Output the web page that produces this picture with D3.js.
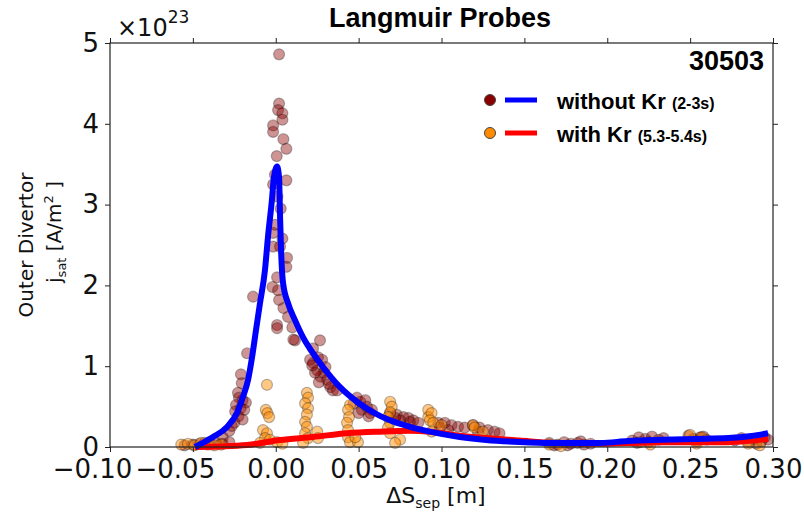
<!DOCTYPE html>
<html>
<head>
<meta charset="utf-8">
<script src="https://cdn.jsdelivr.net/npm/d3@7"></script>
<style>
body { margin: 0; background: #fff; }
text { font-family: "DejaVu Sans", sans-serif; }
.bold { font-family: "Liberation Sans", Arial, sans-serif; font-weight: bold; }
</style>
</head>
<body>
<svg id="chart" width="804" height="514"></svg>
<script>
// tick values
const xTicks = [-0.10, -0.05, 0.00, 0.05, 0.10, 0.15, 0.20, 0.25, 0.30];
const yTicks = [0, 1, 2, 3, 4, 5];

// measured points [dS_sep (m), j_sat (1e23 A/m^2)] -- without Kr (2-3s)
const withoutKrPts = [
  [0.0020,4.86],[0.0020,4.25],[0.0014,4.17],[0.0040,4.13],[0.0040,4.05],[-0.0016,3.98],[-0.0016,3.90],
  [0.0046,3.81],[0.0064,3.69],[0.0006,3.60],[-0.0005,3.37],[0.0064,3.30],[-0.0016,3.25],[0.0010,3.10],
  [0.0030,2.95],[-0.0005,2.75],[-0.0016,2.65],[0.0040,2.58],[-0.0016,2.48],[0.0026,2.48],[0.0068,2.34],
  [0.0064,2.23],[0.0008,2.10],[-0.0020,1.98],[0.0014,1.94],[0.0020,1.82],[0.0046,1.72],[0.0074,1.61],
  [0.0008,1.51],[0.0008,1.47],[0.0116,1.32],[0.0100,1.48],[0.0106,1.33],
  [-0.0137,1.86],[-0.0173,1.16],[-0.0210,0.90],[-0.0205,0.79],[-0.0228,0.67],[-0.0222,0.61],[-0.0200,0.58],
  [-0.0180,0.55],[-0.0240,0.52],[-0.0212,0.48],[-0.0245,0.44],[-0.0190,0.46],[-0.0225,0.38],[-0.0200,0.34],
  [-0.0250,0.30],[-0.0280,0.20],[-0.0320,0.12],[-0.0265,0.26],
  [-0.0550,0.02],[-0.0500,0.03],[-0.0460,0.04],[-0.0430,0.05],[-0.0400,0.06],[-0.0360,0.05],[-0.0320,0.04],[-0.0280,0.06],
  [0.0267,1.32],[0.0225,1.22],[0.0255,1.11],[0.0280,1.08],[0.0225,1.04],[0.0250,0.95],[0.0290,0.92],
  [0.0270,0.87],[0.0310,0.83],[0.0237,0.92],[0.0300,0.99],[0.0330,0.74],[0.0345,0.70],[0.0370,0.70],
  [0.0207,1.08],[0.0220,1.01],[0.0260,0.80],[0.0320,0.78],
  [0.0490,0.61],[0.0510,0.56],[0.0470,0.54],[0.0550,0.50],[0.0520,0.46],[0.0570,0.42],[0.0500,0.42],
  [0.0580,0.46],[0.0540,0.58],[0.0560,0.38],
  [0.0690,0.42],[0.0730,0.40],[0.0770,0.37],[0.0800,0.36],[0.0830,0.33],[0.0750,0.33],[0.0720,0.36],
  [0.0810,0.31],[0.0860,0.30],
  [0.1020,0.30],[0.1060,0.27],[0.0980,0.30],[0.1100,0.25],[0.0990,0.24],[0.1140,0.24],[0.1040,0.21],
  [0.1190,0.27],[0.1230,0.24],[0.1280,0.21],[0.1320,0.19],[0.1220,0.19],[0.1350,0.17],
  [0.165,0.05],[0.170,0.03],[0.174,0.06],[0.178,0.04],[0.182,0.05],[0.186,0.03],[0.168,0.02],
  [0.176,0.02],[0.184,0.07],[0.190,0.04],
  [0.215,0.08],[0.219,0.12],[0.223,0.10],[0.227,0.13],[0.231,0.09],[0.225,0.06],[0.218,0.05],[0.234,0.11],
  [0.249,0.14],[0.252,0.10],[0.256,0.12],[0.260,0.09],[0.254,0.07],[0.258,0.13],
  [0.277,0.08],[0.281,0.11],[0.285,0.06],[0.289,0.10],[0.293,0.07],[0.297,0.09],[0.290,0.04],[0.295,0.12]
];

// with Kr (5.3-5.4s)
const withKrPts = [
  [-0.057,0.03],[-0.053,0.04],[-0.049,0.02],[-0.045,0.05],[-0.041,0.03],[-0.037,0.02],[-0.033,0.03],
  [-0.0053,0.77],[-0.0060,0.46],[-0.0050,0.42],[-0.0040,0.37],[-0.0077,0.21],[-0.0053,0.17],[-0.0065,0.11],
  [-0.0035,0.09],[0.0008,0.06],[-0.0095,0.05],[0.0040,0.04],
  [0.0188,0.67],[0.0195,0.61],[0.0177,0.54],[0.0195,0.48],[0.0188,0.40],[0.0177,0.31],[0.0188,0.25],
  [0.0177,0.17],[0.0195,0.11],[0.0250,0.19],[0.0255,0.11],[0.0165,0.05],
  [0.0448,0.52],[0.0436,0.46],[0.0442,0.37],[0.0430,0.30],[0.0436,0.21],[0.0436,0.12],[0.0448,0.06],
  [0.0496,0.06],[0.0480,0.12],
  [0.0690,0.56],[0.0700,0.50],[0.0690,0.43],[0.0677,0.37],[0.0690,0.30],[0.0677,0.24],[0.0690,0.17],
  [0.0750,0.09],[0.0720,0.05],
  [0.0920,0.46],[0.0920,0.37],[0.0940,0.42],[0.0930,0.33],[0.0950,0.30],[0.1000,0.27],[0.0940,0.19],
  [0.1190,0.27],[0.1200,0.24],[0.1250,0.19],
  [0.165,0.03],[0.172,0.01],[0.220,0.06],[0.226,0.03],[0.250,0.15],[0.257,0.12],[0.254,0.04],
  [0.285,0.04],[0.292,0.02]
];

// fitted profiles
const withoutKrFit = [
  [-0.0487,0.00],[-0.0379,0.124],[-0.0294,0.248],[-0.0234,0.42],[-0.0198,0.62],[-0.0167,0.83],
  [-0.0143,1.11],[-0.0119,1.45],[-0.0095,1.78],[-0.0065,2.19],[-0.0047,2.60],[-0.0023,3.06],
  [-0.0011,3.34],[0.0008,3.47],[0.0020,3.34],[0.0026,2.85],[0.0032,2.44],[0.0044,2.03],[0.0074,1.78],
  [0.0116,1.57],[0.0164,1.36],[0.0225,1.16],[0.0285,0.99],[0.0388,0.74],[0.0490,0.56],[0.0587,0.43],
  [0.0689,0.33],[0.081,0.25],[0.093,0.19],[0.111,0.124],[0.127,0.087],[0.147,0.062],[0.167,0.05],
  [0.196,0.05],[0.2125,0.075],[0.233,0.09],[0.253,0.10],[0.273,0.11],[0.287,0.136],[0.297,0.17]
];
const withKrFit = [
  [-0.0487,0.00],[-0.0173,0.025],[0.0026,0.087],[0.0225,0.124],[0.043,0.17],[0.063,0.19],[0.081,0.20],
  [0.093,0.19],[0.107,0.15],[0.127,0.11],[0.147,0.08],[0.167,0.05],[0.196,0.04],[0.233,0.06],
  [0.273,0.06],[0.287,0.08],[0.297,0.10]
];

const svg = d3.select('#chart');
const X = d3.scaleLinear([-0.1, 0.3], [110, 773]);
const Y = d3.scaleLinear([0, 5], [447, 43]);

// scatter
const pts = svg.append('g');
pts.selectAll('.p1').data(withoutKrPts).join('circle').attr('class', 'p1')
  .attr('cx', d => X(d[0])).attr('cy', d => Y(d[1])).attr('r', 5.5)
  .attr('fill', 'darkred').attr('fill-opacity', 0.42)
  .attr('stroke', '#000').attr('stroke-opacity', 0.28).attr('stroke-width', 1.2);
pts.selectAll('.p2').data(withKrPts).join('circle').attr('class', 'p2')
  .attr('cx', d => X(d[0])).attr('cy', d => Y(d[1])).attr('r', 5.5)
  .attr('fill', 'darkorange').attr('fill-opacity', 0.48)
  .attr('stroke', '#000').attr('stroke-opacity', 0.28).attr('stroke-width', 1.2);

// fit lines
const line = d3.line().x(d => X(d[0])).y(d => Y(d[1])).curve(d3.curveMonotoneX);
svg.append('path').datum(withKrFit).attr('d', line)
  .attr('fill', 'none').attr('stroke', '#ff0000').attr('stroke-width', 6).attr('stroke-linejoin', 'round');
svg.append('path').datum(withoutKrFit).attr('d', line)
  .attr('fill', 'none').attr('stroke', '#0000ff').attr('stroke-width', 6).attr('stroke-linejoin', 'round');

// axes
const fmt = d3.format('.2f');
const xAxis = svg.append('g').attr('transform', 'translate(0,447)')
  .call(d3.axisBottom(X).tickValues(xTicks).tickSize(5).tickSizeOuter(0).tickPadding(8).tickFormat(fmt));
xAxis.selectAll('text').attr('dx', d => d < 0 ? -18 : 0);
svg.append('g').attr('transform', 'translate(110,0)')
  .call(d3.axisLeft(Y).tickValues(yTicks).tickSize(5).tickSizeOuter(0).tickPadding(6).tickFormat(d3.format('d')));
svg.append('g').attr('transform', 'translate(0,43)')
  .call(d3.axisTop(X).tickValues(xTicks).tickSize(5).tickSizeOuter(0).tickFormat(''));
svg.append('g').attr('transform', 'translate(773,0)')
  .call(d3.axisRight(Y).tickValues(yTicks).tickSize(5).tickSizeOuter(0).tickFormat(''));
svg.selectAll('.domain').remove();
svg.selectAll('.tick line').attr('stroke', '#222');
svg.selectAll('.tick text').style('font-family', '"DejaVu Sans", sans-serif').style('font-size', '26px').attr('fill', '#111');
svg.append('rect').attr('x', 110).attr('y', 43).attr('width', 663).attr('height', 404)
  .attr('fill', 'none').attr('stroke', '#222').attr('stroke-width', 1.2);

// offset text
const off = svg.append('text').attr('x', 117).attr('y', 36).style('font-size', '24px').attr('fill', '#111');
off.append('tspan').text('×10');
off.append('tspan').attr('dy', -13).style('font-size', '17px').text('23');

// title
svg.append('text').attr('class', 'bold').attr('x', 440).attr('y', 27).attr('text-anchor', 'middle')
  .style('font-size', '27px').text('Langmuir Probes');
svg.append('text').attr('class', 'bold').attr('x', 764).attr('y', 70).attr('text-anchor', 'end')
  .style('font-size', '27px').text('30503');

// legend
const legendRows = [
  { label: 'without Kr', note: '(2-3s)', dot: 'darkred', line: '#0000ff', y: 100 },
  { label: 'with Kr', note: '(5.3-5.4s)', dot: 'darkorange', line: '#ff0000', y: 133 }
];
const lg = svg.append('g');
legendRows.forEach(r => {
  lg.append('circle').attr('cx', 490).attr('cy', r.y).attr('r', 5.5)
    .attr('fill', r.dot).attr('stroke', '#444').attr('stroke-width', 1);
  lg.append('line').attr('x1', 505).attr('x2', 537).attr('y1', r.y).attr('y2', r.y)
    .attr('stroke', r.line).attr('stroke-width', 5);
  const t = lg.append('text').attr('class', 'bold').attr('x', 557).attr('y', r.y + 9).style('font-size', '22px');
  t.append('tspan').text(r.label + ' ');
  t.append('tspan').style('font-size', '16px').text(r.note);
});

// axis labels
svg.append('text').attr('transform', 'translate(33,245) rotate(-90)').attr('text-anchor', 'middle')
  .style('font-size', '20px').attr('fill', '#111').text('Outer Divertor');
const yl = svg.append('text').attr('transform', 'translate(61,232) rotate(-90)').attr('text-anchor', 'middle')
  .style('font-size', '20px').attr('fill', '#111');
yl.append('tspan').text('j');
yl.append('tspan').attr('dy', 5).style('font-size', '13px').text('sat');
yl.append('tspan').attr('dy', -5).text(' [A/m');
yl.append('tspan').attr('dy', -8).style('font-size', '13px').text('2');
yl.append('tspan').attr('dy', 8).text(' ]');

const xl = svg.append('text').attr('x', 436).attr('y', 503).attr('text-anchor', 'middle')
  .style('font-size', '22px').attr('fill', '#111');
xl.append('tspan').text('ΔS');
xl.append('tspan').attr('dy', 5).style('font-size', '14px').text('sep');
xl.append('tspan').attr('dy', -5).text(' [m]');
</script>
</body>
</html>
